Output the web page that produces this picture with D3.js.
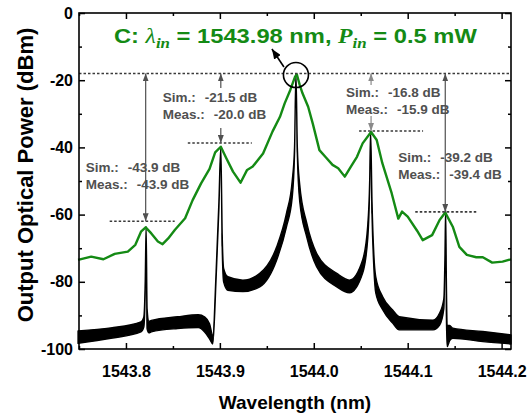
<!DOCTYPE html>
<html>
<head>
<meta charset="utf-8">
<script src="https://cdn.jsdelivr.net/npm/d3@7"></script>
<style>
  body { margin: 0; background: #fff; }
  svg { display: block; font-family: Arial, "Liberation Sans", sans-serif; }
</style>
</head>
<body>
<div id="chart"></div>
<script>
// measured spectrum (green trace)
const measWl = [1543.749, 1543.763, 1543.776, 1543.788, 1543.802, 1543.810, 1543.816, 1543.821, 1543.827,
  1543.834, 1543.839, 1543.845, 1543.852, 1543.863, 1543.871, 1543.880, 1543.889, 1543.895, 1543.901,
  1543.907, 1543.914, 1543.922, 1543.929, 1543.935, 1543.946, 1543.956, 1543.964, 1543.969, 1543.975,
  1543.980, 1543.982, 1543.985, 1543.988, 1543.994, 1543.999, 1544.006, 1544.013, 1544.020, 1544.026,
  1544.033, 1544.040, 1544.046, 1544.052, 1544.061, 1544.067, 1544.073, 1544.083, 1544.090, 1544.094,
  1544.100, 1544.110, 1544.116, 1544.126, 1544.134, 1544.140, 1544.148, 1544.155, 1544.163, 1544.173,
  1544.180, 1544.190, 1544.201, 1544.210];
const measP = [-73.5, -72.5, -73.3, -71.7, -71.0, -69.0, -65.1, -63.8, -65.6,
  -68.0, -68.8, -67.1, -64.6, -61.1, -55.7, -50.7, -46.4, -41.5, -39.8,
  -43.3, -47.2, -50.5, -46.7, -45.7, -41.8, -35.3, -30.9, -26.9, -22.9,
  -19.0, -18.3, -21.4, -23.9, -27.9, -33.0, -40.8, -43.0, -45.2, -46.2,
  -48.7, -45.5, -42.8, -38.8, -35.4, -37.8, -44.7, -53.7, -61.2, -59.1,
  -60.6, -64.8, -67.6, -66.1, -61.6, -59.4, -63.6, -69.6, -72.0, -72.7,
  -72.7, -74.3, -74.0, -73.3];

// simulated spectrum (black band: upper and lower envelope of the fast ripple)
const simWl = [1543.749, 1543.784, 1543.816, 1543.819, 1543.8205, 1543.8215, 1543.8225, 1543.8245, 1543.827,
  1543.855, 1543.877, 1543.884, 1543.889, 1543.8925, 1543.896, 1543.899, 1543.901, 1543.9025, 1543.904,
  1543.9085, 1543.9245, 1543.9425, 1543.9605, 1543.971, 1543.977, 1543.9795, 1543.981, 1543.9825, 1543.985,
  1543.9925, 1544.003, 1544.0245, 1544.038, 1544.052, 1544.0575, 1544.0595, 1544.0605, 1544.062, 1544.064,
  1544.066, 1544.0735, 1544.084, 1544.091, 1544.127, 1544.134, 1544.1385, 1544.1397, 1544.1404, 1544.1412,
  1544.142, 1544.1447, 1544.148, 1544.180, 1544.210];
const simHi = [-94.6, -93.7, -91.9, -90.5, -80, -63.5, -88, -91.8, -91.5,
  -90.4, -89.8, -90.5, -92.5, -96.0, -77, -56, -39.9, -66, -76,
  -78.5, -79.5, -77.5, -69.6, -59.5, -50, -40, -18, -40, -51,
  -62.5, -71.5, -77.5, -79.5, -73.5, -63, -50, -35.1, -56, -72,
  -78.5, -84.5, -88.4, -90.4, -91.4, -89.3, -85, -72, -58.6, -80,
  -93, -93, -93.8, -94.8, -95.8];
const simLo = [-98.3, -96.8, -94.9, -93.5, -83, -63.5, -94, -95.2, -94.9,
  -93.9, -93.6, -95.0, -97.0, -98.5, -79, -58, -39.9, -70, -80,
  -82.5, -82.9, -81.5, -73.5, -63.6, -55, -42, -18, -42, -56,
  -66.7, -75.5, -81.5, -83.3, -77.5, -67, -52, -35.1, -60, -76,
  -83.3, -88.4, -92.3, -94.3, -94.3, -92.9, -88, -72, -58.6, -90,
  -99.3, -97.5, -96.8, -97.8, -98.5];

// reference level of the pump and the four side peaks with their labels
const refLevel = -18;
const pumpWl = 1543.981;
const peakWl = [1543.821, 1543.901, 1544.061, 1544.140];
const peakLevel = [-62.0, -38.7, -35.1, -59.2];
const simDiff = ['-43.9 dB', '-21.5 dB', '-16.8 dB', '-39.2 dB'];
const measDiff = ['-43.9 dB', '-20.0 dB', '-15.9 dB', '-39.4 dB'];

const xTicks = [1543.8, 1543.9, 1544.0, 1544.1, 1544.2];
const xMinor = [1543.75, 1543.85, 1543.95, 1544.05, 1544.15];
const yTicks = [-100, -80, -60, -40, -20, 0];
const yMinor = [-90, -70, -50, -30, -10];

const width = 529
    , height = 413
    , margin = {top: 13, right: 18, bottom: 64, left: 79}
    , green = '#148a14'
    , annColor = '#505050'
    , serif = '"Liberation Serif", "Times New Roman", serif'
    ;

const x = d3.scaleLinear().domain([1543.75, 1544.21]).range([margin.left, width - margin.right]);
const y = d3.scaleLinear().domain([-100, 0]).range([height - margin.bottom, margin.top]);

const svg = d3.select('#chart').append('svg')
  .attr('width', width)
  .attr('height', height);

function marker(id, w, h, fill, orient) {
  svg.append('defs').append('marker')
    .attr('id', id)
    .attr('viewBox', `0 0 ${w} ${h}`)
    .attr('refX', w).attr('refY', h / 2)
    .attr('markerWidth', w).attr('markerHeight', h)
    .attr('markerUnits', 'userSpaceOnUse')
    .attr('orient', orient)
    .append('path').attr('d', `M0,0L${w},${h / 2}L0,${h}Z`).attr('fill', fill);
}
marker('head', 8, 6, annColor, 'auto-start-reverse');
marker('headLight', 8, 6, '#8a8a8a', 'auto-start-reverse');
marker('headBlack', 10, 8, '#000', 'auto');

// simulated band
const sim = simWl.map((w, i) => ({w, hi: simHi[i], lo: simLo[i]}));
svg.append('path')
  .datum(sim)
  .attr('fill', '#000')
  .attr('stroke', '#000')
  .attr('stroke-width', 1.4)
  .attr('stroke-linejoin', 'round')
  .attr('d', d3.area()
    .x(d => x(d.w))
    .y0(d => y(d.lo))
    .y1(d => y(d.hi))
    .curve(d3.curveMonotoneX));

// measured trace
svg.append('path')
  .datum(measWl.map((w, i) => [w, measP[i]]))
  .attr('fill', 'none')
  .attr('stroke', green)
  .attr('stroke-width', 2.4)
  .attr('stroke-linejoin', 'round')
  .attr('d', d3.line().x(d => x(d[0])).y(d => y(d[1])));

// dotted reference lines
const dotted = svg.append('g')
  .attr('stroke', '#3a3a3a')
  .attr('stroke-width', 1.6)
  .attr('stroke-dasharray', '2.5,2');
dotted.append('line')
  .attr('x1', x.range()[0]).attr('x2', x.range()[1])
  .attr('y1', y(refLevel)).attr('y2', y(refLevel));

// text block offsets and dotted line extents, in pixels around each arrow
const annLayout = [
  {tx: -60, ty: 172, l: -36, r: 29, gap: null, light: false},
  {tx: -58, ty: 102, l: -33, r: 31, gap: [88, 128], light: false},
  {tx: -25, ty: 97, l: -12, r: 52, gap: [85, 116], light: true},
  {tx: -47, ty: 162, l: -30, r: 33, gap: null, light: false}
];

const ann = svg.append('g');
peakWl.forEach((w, i) => {
  const lay = annLayout[i]
      , px = x(w)
      , py = y(peakLevel[i])
      , top = y(refLevel)
      , col = lay.light ? '#8a8a8a' : annColor
      , head = lay.light ? 'url(#headLight)' : 'url(#head)'
      ;

  dotted.append('line')
    .attr('x1', px + lay.l).attr('x2', px + lay.r)
    .attr('y1', py).attr('y2', py);

  if (lay.gap) {
    ann.append('line')
      .attr('x1', px).attr('x2', px)
      .attr('y1', lay.gap[0]).attr('y2', top)
      .attr('stroke', col).attr('stroke-width', 1.2)
      .attr('marker-end', head);
    ann.append('line')
      .attr('x1', px).attr('x2', px)
      .attr('y1', lay.gap[1]).attr('y2', py)
      .attr('stroke', col).attr('stroke-width', 1.2)
      .attr('marker-end', head);
  } else {
    ann.append('line')
      .attr('x1', px).attr('x2', px)
      .attr('y1', top).attr('y2', py)
      .attr('stroke', col).attr('stroke-width', 1.2)
      .attr('marker-start', head)
      .attr('marker-end', head);
  }

  const t = ann.append('g')
    .attr('fill', annColor)
    .attr('font-size', 13.5)
    .attr('font-weight', 'bold');
  t.append('text').attr('x', px + lay.tx).attr('y', lay.ty).text('Sim.:');
  t.append('text').attr('x', px + lay.tx + 42).attr('y', lay.ty).text(simDiff[i]);
  t.append('text').attr('x', px + lay.tx).attr('y', lay.ty + 17).text('Meas.:');
  t.append('text').attr('x', px + lay.tx + 51).attr('y', lay.ty + 17).text(measDiff[i]);
});

// circle on the pump and pointer to the title
const cx = x(pumpWl), cy = y(refLevel) + 1.5;
svg.append('circle')
  .attr('cx', cx).attr('cy', cy).attr('r', 12.5)
  .attr('fill', 'none').attr('stroke', '#000').attr('stroke-width', 1.6);
svg.append('line')
  .attr('x1', cx - 12).attr('y1', cy - 8)
  .attr('x2', cx - 24).attr('y2', cy - 26)
  .attr('stroke', '#000').attr('stroke-width', 1.6)
  .attr('marker-end', 'url(#headBlack)');

// axes
const styleAxis = g => {
  g.select('.domain').remove();
  g.selectAll('line').attr('stroke', '#000').attr('stroke-width', 1.5);
  g.selectAll('text')
    .attr('font-size', 16)
    .attr('font-weight', 'bold')
    .attr('font-family', 'Arial, "Liberation Sans", sans-serif')
    .attr('fill', '#000');
};
const fmtX = d => d.toFixed(1)
    , fmtY = d => String(d)
    , x0 = x.range()[0], x1 = x.range()[1]
    , y0 = y.range()[0], y1 = y.range()[1]
    ;

svg.append('g').attr('transform', `translate(0,${y0})`)
  .call(d3.axisBottom(x).tickValues(xTicks).tickSize(-6).tickPadding(17).tickFormat(fmtX)).call(styleAxis);
svg.append('g').attr('transform', `translate(0,${y0})`)
  .call(d3.axisBottom(x).tickValues(xMinor).tickSize(-3).tickFormat('')).call(styleAxis);
svg.append('g').attr('transform', `translate(0,${y1})`)
  .call(d3.axisTop(x).tickValues(xTicks).tickSize(-6).tickFormat('')).call(styleAxis);
svg.append('g').attr('transform', `translate(0,${y1})`)
  .call(d3.axisTop(x).tickValues(xMinor).tickSize(-3).tickFormat('')).call(styleAxis);

svg.append('g').attr('transform', `translate(${x0},0)`)
  .call(d3.axisLeft(y).tickValues(yTicks).tickSize(-6).tickPadding(6).tickFormat(fmtY)).call(styleAxis);
svg.append('g').attr('transform', `translate(${x0},0)`)
  .call(d3.axisLeft(y).tickValues(yMinor).tickSize(-3).tickFormat('')).call(styleAxis);
svg.append('g').attr('transform', `translate(${x1},0)`)
  .call(d3.axisRight(y).tickValues(yTicks).tickSize(-6).tickFormat('')).call(styleAxis);
svg.append('g').attr('transform', `translate(${x1},0)`)
  .call(d3.axisRight(y).tickValues(yMinor).tickSize(-3).tickFormat('')).call(styleAxis);

svg.append('rect')
  .attr('x', x0).attr('y', y1)
  .attr('width', x1 - x0).attr('height', y0 - y1)
  .attr('fill', 'none').attr('stroke', '#000').attr('stroke-width', 1.6);

// axis titles
svg.append('text')
  .attr('x', (x0 + x1) / 2).attr('y', 409)
  .attr('text-anchor', 'middle')
  .attr('font-size', 19).attr('font-weight', 'bold')
  .text('Wavelength (nm)');
svg.append('text')
  .attr('transform', `translate(33,${(y0 + y1) / 2 - 6}) rotate(-90)`)
  .attr('text-anchor', 'middle')
  .attr('font-size', 22).attr('font-weight', 'bold')
  .text('Output Optical Power (dBm)');

// green title, a little wider than the plain font
const title = svg.append('text')
  .attr('transform', 'translate(114,43) scale(1.13,1)')
  .attr('fill', green)
  .attr('font-size', 21)
  .attr('font-weight', 'bold');
title.append('tspan').text('C: ');
title.append('tspan').attr('font-family', serif)
  .attr('font-style', 'italic').attr('font-weight', 'normal').text('λ');
title.append('tspan').attr('font-family', serif)
  .attr('font-style', 'italic').attr('font-size', 15).attr('dy', 5).text('in');
title.append('tspan').attr('dy', -5).text(' = 1543.98 nm, ');
title.append('tspan').attr('font-family', serif)
  .attr('font-style', 'italic').text('P');
title.append('tspan').attr('font-family', serif)
  .attr('font-style', 'italic').attr('font-size', 15).attr('dy', 5).text('in');
title.append('tspan').attr('dy', -5).text(' = 0.5 mW');
</script>
</body>
</html>
